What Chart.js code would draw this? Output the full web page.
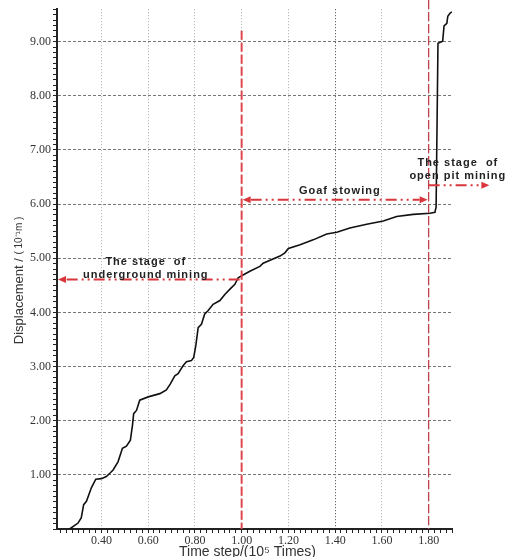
<!DOCTYPE html>
<html>
<head>
<meta charset="utf-8">
<script src="https://cdn.jsdelivr.net/npm/chart.js@4.4.1/dist/chart.umd.min.js"></script>
<style>
  html, body { margin: 0; padding: 0; background: #fff; }
  #wrap { width: 510px; height: 557px; }
</style>
</head>
<body>
<div id="wrap"><canvas id="chart"></canvas></div>
<script>
// displacement curve (time step in 10^5, displacement in 10^-1 m)
const timeSteps = [0.264, 0.30, 0.314, 0.324, 0.336, 0.357, 0.376, 0.40, 0.421, 0.436, 0.45, 0.471, 0.49, 0.507, 0.524, 0.533, 0.538, 0.55, 0.564, 0.60,
  0.65, 0.678, 0.695, 0.714, 0.728, 0.75, 0.764, 0.785, 0.795, 0.804, 0.814, 0.828, 0.842, 0.856, 0.878, 0.907, 0.928, 0.95, 0.971, 0.985,
  1.006, 1.035, 1.078, 1.092, 1.164, 1.185, 1.20, 1.25, 1.306, 1.364, 1.407, 1.463, 1.535, 1.606, 1.663, 1.734, 1.806, 1.827,
  1.832, 1.84, 1.86, 1.866, 1.878, 1.882, 1.892, 1.90];
const displacement = [0, 0.11, 0.21, 0.45, 0.51, 0.76, 0.92, 0.93, 0.97, 1.03, 1.09, 1.24, 1.49, 1.53, 1.64, 1.92, 2.13, 2.19, 2.38, 2.44,
  2.50, 2.57, 2.68, 2.83, 2.87, 3.02, 3.09, 3.11, 3.17, 3.39, 3.72, 3.78, 3.97, 4.03, 4.15, 4.22, 4.33, 4.43, 4.52, 4.64,
  4.69, 4.76, 4.85, 4.91, 5.04, 5.10, 5.18, 5.25, 5.34, 5.45, 5.48, 5.56, 5.63, 5.69, 5.77, 5.81, 5.83, 5.85,
  5.95, 8.97, 9.01, 9.29, 9.34, 9.47, 9.53, 9.55];

// stage boundaries and labels (data units)
const stageBounds = [1.00, 1.80];
const stageNames = [['The stage  of', 'underground mining'], ['Goaf stowing'], ['The stage  of', 'open pit mining']];
const arrowLevels = [4.61, 6.08, 6.35];
const labelX = [0.59, 1.42, 1.925];
const labelY = [[4.93, 4.69], [6.25], [6.76, 6.52]];

const RED = '#d8363c';
const isMajor = (v, step) => Math.abs(v / step - Math.round(v / step)) < 1e-6;

function arrowHead(ctx, x, y, dir) {
  ctx.beginPath();
  ctx.moveTo(x, y);
  ctx.lineTo(x - dir * 8, y - 3.5);
  ctx.lineTo(x - dir * 8, y + 3.5);
  ctx.closePath();
  ctx.fill();
}

function hLine(ctx, x1, x2, y) {
  ctx.beginPath();
  ctx.moveTo(x1, y);
  ctx.lineTo(x2, y);
  ctx.stroke();
}

const stagePlugin = {
  id: 'stages',
  afterDatasetsDraw(chart) {
    const { ctx, chartArea, scales: { x, y } } = chart;
    ctx.save();
    // vertical boundaries
    ctx.strokeStyle = '#e0474c';
    ctx.lineWidth = 2;
    ctx.setLineDash([9, 3]);
    let px = x.getPixelForValue(stageBounds[0]);
    ctx.beginPath();
    ctx.moveTo(px, y.getPixelForValue(9.2));
    ctx.lineTo(px, chartArea.bottom);
    ctx.stroke();
    ctx.strokeStyle = '#c0404a';
    ctx.lineWidth = 1.3;
    px = x.getPixelForValue(stageBounds[1]);
    ctx.beginPath();
    ctx.moveTo(px, 0);
    ctx.lineTo(px, chartArea.bottom);
    ctx.stroke();

    // arrows
    ctx.strokeStyle = RED;
    ctx.fillStyle = RED;
    ctx.lineWidth = 2;
    ctx.setLineDash([11, 4, 2, 4, 2, 4]);
    const a = x.getPixelForValue(stageBounds[0]);
    const b = x.getPixelForValue(stageBounds[1]);
    let py = y.getPixelForValue(arrowLevels[0]);
    hLine(ctx, a - 2, chartArea.left + 8, py);
    ctx.setLineDash([]);
    arrowHead(ctx, chartArea.left + 1, py, -1);

    ctx.setLineDash([11, 4, 2, 4, 2, 4]);
    py = y.getPixelForValue(arrowLevels[1]);
    hLine(ctx, a + 9, b - 9, py);
    ctx.setLineDash([]);
    arrowHead(ctx, a + 1, py, -1);
    arrowHead(ctx, b - 1, py, 1);

    ctx.setLineDash([11, 4, 2, 4, 2, 4]);
    py = y.getPixelForValue(arrowLevels[2]);
    const end = x.getPixelForValue(2.06);
    hLine(ctx, b, end - 8, py);
    ctx.setLineDash([]);
    arrowHead(ctx, end, py, 1);

    // stage labels
    ctx.fillStyle = '#222';
    ctx.font = 'bold 11px "Liberation Sans", Arial, sans-serif';
    ctx.letterSpacing = '1px';
    ctx.textAlign = 'center';
    ctx.textBaseline = 'middle';
    stageNames.forEach((lines, i) => {
      lines.forEach((t, j) => {
        ctx.fillText(t, x.getPixelForValue(labelX[i]), y.getPixelForValue(labelY[i][j]));
      });
    });
    ctx.letterSpacing = '0px';

    // axis titles
    ctx.fillStyle = '#333';
    ctx.font = '14px "Liberation Sans", Arial, sans-serif';
    ctx.fillText('Time step/(10\u2075 Times)', (chartArea.left + chartArea.right) / 2 - 7, chartArea.bottom + 23);
    ctx.translate(19, chartArea.top + 335);
    ctx.rotate(-Math.PI / 2);
    ctx.textAlign = 'left';
    ctx.font = '13px "Liberation Sans", Arial, sans-serif';
    const head = 'Displacement / ';
    ctx.fillText(head, 0, 0);
    ctx.font = '10px "Liberation Sans", Arial, sans-serif';
    ctx.fillText('( 10\u207B\u00B9m )', ctx.measureText ? (() => { ctx.font = '13px "Liberation Sans", Arial, sans-serif'; const w = ctx.measureText(head).width; ctx.font = '10px "Liberation Sans", Arial, sans-serif'; return w; })() : 85, 0);
    ctx.restore();
  }
};

const points = timeSteps.map((t, i) => ({ x: t, y: displacement[i] }));

new Chart(document.getElementById('chart'), {
  type: 'scatter',
  data: {
    datasets: [{
      data: points,
      showLine: true,
      borderColor: '#111',
      borderWidth: 1.6,
      pointRadius: 0,
      tension: 0
    }]
  },
  options: {
    responsive: true,
    maintainAspectRatio: false,
    animation: false,
    layout: { padding: { top: 8, right: 58, left: 0, bottom: 0 } },
    plugins: { legend: { display: false }, tooltip: { enabled: false } },
    scales: {
      x: {
        type: 'linear',
        min: 0.21,
        max: 1.9,
        afterFit: s => { s.height = 28; },
        ticks: {
          stepSize: 0.025,
          autoSkip: false,
          includeBounds: false,
          maxRotation: 0,
          padding: 1,
          color: '#333',
          font: { family: '"Liberation Serif", "Times New Roman", serif', size: 12 },
          callback: v => isMajor(v, 0.2) ? v.toFixed(2) : ''
        },
        grid: {
          color: c => !c.tick ? 'transparent' : (isMajor(c.tick.value, 0.2) ? (Math.abs(c.tick.value - 1.4) < 1e-6 ? '#444' : '#aaa') : 'transparent'),
          lineWidth: 1,
          tickColor: '#222',
          tickLength: 4
        },
        border: { color: '#222', width: 2, dash: [1, 2] }
      },
      y: {
        min: 0,
        max: 9.6,
        afterFit: s => { s.width = 57; },
        ticks: {
          stepSize: 0.1,
          autoSkip: false,
          includeBounds: false,
          padding: 2,
          color: '#333',
          font: { family: '"Liberation Serif", "Times New Roman", serif', size: 12 },
          callback: v => (isMajor(v, 1) && v > 0.5) ? v.toFixed(2) : ''
        },
        grid: {
          color: c => (c.tick && isMajor(c.tick.value, 1) && c.tick.value > 0.5) ? '#777' : 'transparent',
          lineWidth: 1,
          tickColor: '#222',
          tickLength: 4
        },
        border: { color: '#222', width: 2, dash: [3, 2] }
      }
    }
  },
  plugins: [stagePlugin]
});
</script>
</body>
</html>
